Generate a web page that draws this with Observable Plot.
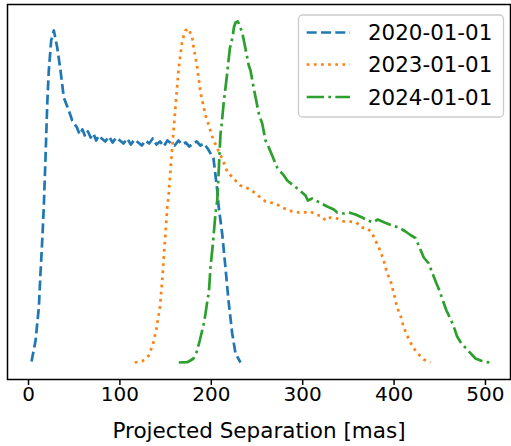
<!DOCTYPE html>
<html>
<head>
<meta charset="utf-8">
<script src="https://cdn.jsdelivr.net/npm/d3@7"></script>
<script src="https://cdn.jsdelivr.net/npm/@observablehq/plot@0.6"></script>
<style>
  html, body { margin: 0; padding: 0; background: white; }
  svg { display: block; }
</style>
</head>
<body>
<div id="chart"></div>
<script>
// ---- Data ----
const seriesNames = ["2020-01-01", "2023-01-01", "2024-01-01"];
const seriesColors = ["#1f77b4", "#ff7f0e", "#2ca02c"];
const xTicks = [0, 100, 200, 300, 400, 500];
const xLabel = "Projected Separation [mas]";

// 2020-01-01 (dashed)
const sep2020 = [3.3, 7.7, 11.3, 13.1, 15.0, 16.7, 18.6, 20.5, 22.2, 24.8, 27.7, 31.4, 35.0, 38.6, 44.1, 47.8,
  53, 56, 59, 62, 65, 68, 71, 74, 77, 80, 84, 88, 92, 96, 100, 104, 108, 112, 116, 120, 124, 128, 132, 136,
  140, 144, 148, 152, 156, 160, 164, 168, 172, 176, 180, 184, 188, 192, 196,
  202.4, 204.6, 206.8, 207.9, 211.9, 215.5, 218.8, 222.9, 226.5, 232];
const dens2020 = [1, 22, 55, 89, 122, 155, 205, 259, 292, 322, 332, 315, 292, 265, 252, 242,
  235, 228, 233, 226, 231, 225, 229, 222, 227, 224, 221, 226, 220, 225, 222, 219, 224, 218, 223, 220, 217, 222, 219, 224,
  218, 221, 216, 222, 219, 217, 222, 218, 220, 216, 219, 221, 217, 219, 214,
  204, 187, 170, 157, 129, 95, 62, 29, 9, 0];

// 2023-01-01 (dotted)
const sep2023 = [116.3, 124.4, 131.6, 136.4, 140.0, 143.7, 146.3, 148.0, 149.9, 151.8, 153.5, 156.1, 159.0, 161.6,
  164.4, 168.2, 171.8, 175.1, 179.1, 180.9, 184.6, 188.2, 193.7, 197.3, 201.0, 206.5, 211.9, 217.4, 224.3, 231.9,
  242.9, 253.8, 259.3, 270.2, 277.6, 288.5, 295.7, 301.2, 308.5, 314.0, 321.3, 324.9, 330.4, 337.7, 345.0, 351.6,
  358.9, 364.0, 371.2, 376.0, 379.6, 383.3, 385.9, 388.7, 392.4, 396.1, 399.7, 403.4, 407.0, 410.6, 414.3, 417.9,
  421.6, 427.0, 432.5, 439.8];
const dens2023 = [0, 1.3, 7, 19, 34, 55, 82, 105, 129, 155, 169, 202, 235, 265,
  295, 322, 332, 334, 325, 314, 295, 270, 247, 237, 226, 214, 204, 191, 184, 177,
  173, 165, 161, 159, 155, 151, 150, 150, 151, 148, 146, 142, 145, 144, 141, 141,
  140, 135, 134, 129, 122, 115, 109, 102, 89, 82, 69, 55, 47, 35, 27, 20,
  14, 8, 3, 0];

// 2024-01-01 (dash-dot)
const sep2024 = [164.4, 173.6, 177.2, 180.5, 183.8, 187.4, 190.0, 191.8, 193.7, 196.2, 197.3, 199.1, 201.0, 202.1,
  202.7, 204.6, 206.5, 207.5, 209.3, 210.1, 211.2, 213.7, 217.0, 220.3, 223.6, 224.7, 226.5, 229.0, 230.1, 233.8,
  237.4, 241.0, 242.9, 246.5, 252.0, 255.7, 259.3, 261.2, 266.6, 272.1, 279.4, 283.1, 288.5, 296.9, 303.1, 305.6,
  310.4, 319.5, 326.8, 334.1, 337.8, 345.0, 350.5, 357.8, 365.1, 371.3, 377.1, 382.2, 389.5, 397.9, 405.1, 412.5,
  418.7, 423.4, 427.0, 432.5, 438.0, 441.7, 446.4, 449.7, 452.6, 457.3, 461.0, 464.9, 469.0, 473.7, 479.9, 489.1,
  497.0, 504.7];
const dens2024 = [0, 0.3, 2, 4, 10, 22, 32, 39, 49, 65, 69, 95, 112, 122,
  129, 149, 162, 180, 214, 229, 237, 261, 286, 314, 327, 335, 340, 341, 339, 330,
  314, 297, 292, 274, 249, 239, 222, 219, 207, 195, 187, 182, 178, 172, 167, 162,
  164, 159.5, 156, 153, 150, 149, 150, 148, 145, 142, 140, 143, 140, 137, 135, 131,
  127, 124.5, 117, 105, 99, 90, 79, 72, 64, 52, 45, 37, 26, 19, 13, 4,
  1, 0];

const toRows = (xs, ys) => xs.map((x, i) => ({x, y: ys[i]}));
const rows = [toRows(sep2020, dens2020), toRows(sep2023, dens2023), toRows(sep2024, dens2024)];

const lw = 2.7;
const dashes = [
  `${3.7 * lw},${1.6 * lw}`,
  `${1 * lw},${1.65 * lw}`,
  `${6.4 * lw},${1.6 * lw},${1 * lw},${1.6 * lw}`
];

const FONT = "DejaVu Sans";

const plot = Plot.plot({
  width: 511,
  height: 446,
  marginLeft: 7,
  marginRight: 1,
  marginTop: 4,
  marginBottom: 67,
  x: {domain: [-23, 527.4]},
  y: {domain: [-17, 358], axis: null},
  style: {fontFamily: FONT, fontSize: "20px", color: "black", background: "white"},
  marks: [
    ...rows.map((r, i) => Plot.line(r, {
      x: "x", y: "y",
      stroke: seriesColors[i],
      strokeWidth: lw,
      strokeDasharray: dashes[i],
      strokeLinecap: "butt",
      strokeLinejoin: "round"
    })),
    Plot.frame({stroke: "black", strokeWidth: 1.5}),
    Plot.axisX({ticks: xTicks, tickSize: 6, tickPadding: 1, fontSize: 20, label: null, stroke: "black", strokeWidth: 1.5, fill: "black"}),
    Plot.text([xLabel], {frameAnchor: "bottom", dy: 58, lineAnchor: "bottom", fontSize: 21.5, fill: "black", text: d => d})
  ]
});

document.getElementById("chart").appendChild(plot);

// ---- Legend (top right, matplotlib style) ----
const svg = d3.select(plot);
const lg = svg.append("g").attr("font-family", FONT).attr("text-anchor", "start");
lg.append("rect")
  .attr("x", 298.5).attr("y", 15).attr("width", 205).attr("height", 102)
  .attr("rx", 4).attr("ry", 4)
  .attr("fill", "white").attr("fill-opacity", 0.8)
  .attr("stroke", "#cccccc").attr("stroke-width", 1.3);
const rowY = [32.5, 64.5, 97];
seriesNames.forEach((name, i) => {
  lg.append("line")
    .attr("x1", 306.7).attr("x2", 350)
    .attr("y1", rowY[i]).attr("y2", rowY[i])
    .attr("stroke", seriesColors[i]).attr("stroke-width", lw)
    .attr("stroke-dasharray", dashes[i]).attr("stroke-linecap", "butt");
  lg.append("text")
    .attr("x", 368).attr("y", rowY[i] + 7.9)
    .attr("text-anchor", "start")
    .attr("font-size", 21.4).attr("fill", "black")
    .text(name);
});
</script>
</body>
</html>
